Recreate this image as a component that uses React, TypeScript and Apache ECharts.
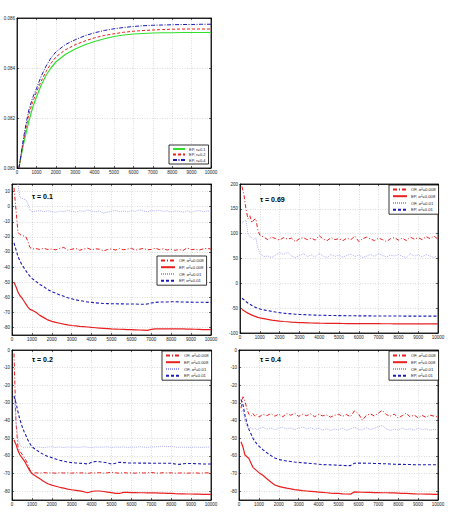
import React, { useEffect, useRef } from "react";
import * as echarts from "echarts";

// ---- iteration steps ----
const stepsTop = [100, 200, 300, 400, 500, 600, 800, 1000, 1250, 1500, 1750, 2000, 2500, 3000, 3500, 4000, 4500, 5000, 5500, 6000, 6500, 7000, 7500, 8000, 8500, 9000, 9500, 10000];

const steps = [
  100, 200, 300, 400, 500, 600, 700, 800, 900, 1000,
  1200, 1400, 1600, 1800, 2000, 2200, 2400, 2600, 2800, 3000,
  3200, 3400, 3600, 3800, 4000, 4200, 4400, 4600, 4800, 5000,
  5200, 5400, 5600, 5800, 6000, 6200, 6400, 6600, 6800, 7000,
  7200, 7400, 7600, 7800, 8000, 8200, 8400, 8600, 8800, 9000,
  9200, 9400, 9600, 9800, 10000,
];

// ---- top panel: EP for three tau values ----
const epTau01 = [0.08, 0.08042, 0.08082, 0.08118, 0.08152, 0.08184, 0.0824, 0.08284, 0.08332, 0.08371, 0.084, 0.08424, 0.08455, 0.08476, 0.08493, 0.08506, 0.08517, 0.08526, 0.08532, 0.08536, 0.08538, 0.0854, 0.08541, 0.08541, 0.08542, 0.08542, 0.08542, 0.08542];
const epTau02 = [0.08, 0.08048, 0.08094, 0.08136, 0.08175, 0.08211, 0.08262, 0.08304, 0.08348, 0.08386, 0.08418, 0.08444, 0.08473, 0.08493, 0.08508, 0.08521, 0.0853, 0.08537, 0.08543, 0.08547, 0.0855, 0.08552, 0.08554, 0.08555, 0.08556, 0.08556, 0.08556, 0.08556];
const epTau04 = [0.08, 0.08052, 0.08102, 0.08148, 0.0819, 0.08228, 0.0828, 0.08317, 0.08368, 0.08408, 0.0844, 0.08464, 0.08494, 0.08513, 0.08529, 0.08541, 0.0855, 0.08557, 0.08562, 0.08566, 0.08569, 0.08571, 0.08572, 0.08573, 0.08574, 0.08574, 0.08575, 0.08575];

// ---- tau = 0.1 ----
const t01Of008 = [
  12.5, -2, -17, -18.5, -19, -19.5, -20, -23, -27, -28,
  -27.8, -28.3, -27.6, -28.4, -28, -28.6, -27.7, -27, -28.8, -28.2,
  -27.6, -28.9, -28.1, -27.5, -28.6, -27.9, -28.2, -29.3, -28.4, -28,
  -28.7, -27.8, -28.5, -28.1, -27.6, -28.8, -28.2, -27.7, -28.6, -28.3,
  -27.5, -28.4, -27.9, -28.7, -28.2, -28.9, -28.4, -29, -27.3, -28.5,
  -28.2, -28.8, -28, -27.6, -28.1,
];
const t01Ep008 = [
  -50, -53, -56.5, -59, -60.5, -62.5, -64.5, -66.5, -68, -68.5,
  -70, -72, -73.5, -75, -76, -76.6, -77.2, -77.8, -78.3, -78.7,
  -79, -79.3, -79.5, -79.7, -80, -80.2, -80.4, -80.6, -80.8, -81,
  -81.1, -81.2, -81.3, -81.4, -81.5, -81.6, -81.7, -81.8, -81.9, -81.3,
  -80.9, -80.9, -80.9, -81, -80.9, -81, -80.9, -81, -81.1, -81.1,
  -81.2, -81.3, -81.4, -81.5, -81.5,
];
const t01Of01 = [
  40, 25, 15, 6, 5.5, 5, 4.5, 2, -2, -3.5,
  -3, -2.6, -3.4, -2.8, -3.2, -3.8, -2.9, -3.3, -2.5, -3.1,
  -3.6, -2.7, -3.2, -2.2, -3, -3.5, -2.8, -4.3, -3.6, -3,
  -2.6, -3.3, -2.9, -3.5, -2.7, -3.1, -2, -2.9, -3.4, -2.6,
  -3, -2.4, -3.2, -2.8, -3.5, -2.9, -3.1, -3.6, -2.7, -3.8,
  -3, -2.5, -3.3, -2.8, -3.2,
];
const t01Ep01 = [
  -24, -28.5, -33, -36, -38.5, -40.5, -42.5, -44.5, -46, -47.5,
  -49.5, -51.5, -53, -55, -56.3, -57.3, -58.5, -59.3, -60.3, -61,
  -61.7, -62.2, -62.7, -63.1, -63.4, -63.7, -63.9, -64.1, -64.2, -64.3,
  -64.3, -64.4, -64.4, -64.5, -64.5, -64.5, -64.6, -64.6, -64.5, -63.8,
  -63.4, -63.2, -63.1, -63.1, -63, -63, -63.1, -63.1, -63.2, -63.2,
  -63.3, -63.3, -63.3, -63.4, -63.4,
];

// ---- tau = 0.69 ----
const t069Of008 = [
  195, 178, 150, 130, 136, 122, 128, 130, 108, 97,
  93, 88, 93, 90, 87, 92, 89, 91, 84, 90,
  92, 88, 91, 87, 96, 89, 86, 92, 88, 90,
  86, 91, 88, 95, 84, 90, 93, 89, 86, 91,
  88, 84, 90, 92, 87, 91, 86, 93, 89, 92,
  88, 94, 90, 95, 89,
];
const t069Ep008 = [
  -52, -55, -57.5, -60, -62, -64, -65.5, -67, -68.5, -69.5,
  -71, -72.5, -74, -75, -76, -76.8, -77.4, -78, -78.5, -79,
  -79.3, -79.6, -79.9, -80.1, -80.3, -80.4, -80.5, -80.6, -80.7, -80.8,
  -80.9, -81, -81, -81.1, -81.1, -81.2, -81.2, -81.3, -81.3, -81.3,
  -81.4, -81.4, -81.4, -81.5, -81.5, -81.5, -81.6, -81.6, -81.6, -81.6,
  -81.6, -81.6, -81.7, -81.7, -81.7,
];
const t069Of01 = [
  121, 126, 127, 100, 94, 92, 88, 92, 72, 60,
  54, 55, 52, 57, 62, 58, 63, 55, 52, 56,
  60, 54, 57, 53, 60, 55, 52, 58, 54, 57,
  53, 56, 59, 54, 57, 52, 55, 58, 54, 60,
  56, 53, 57, 55, 58, 54, 52, 60, 55, 57,
  53, 58, 55, 52, 57,
];
const t069Ep01 = [
  -30, -33, -36.5, -39.5, -42, -44.5, -46.5, -48.5, -50, -51.5,
  -53.5, -55, -56.5, -57.8, -59, -60, -60.8, -61.5, -62.1, -62.6,
  -63, -63.4, -63.7, -64, -64.2, -64.4, -64.6, -64.8, -64.9, -65,
  -65.1, -65.2, -65.3, -65.4, -65.5, -65.5, -65.6, -65.6, -65.7, -65.7,
  -65.8, -65.8, -65.8, -65.9, -65.9, -65.9, -66, -66, -66, -66,
  -66, -66, -66.1, -66.1, -66.1,
];

// ---- tau = 0.2 ----
const t02Of008 = [
  -2, -41, -55, -57.5, -59, -60.5, -62.5, -65, -68, -69.8,
  -69.6, -69.8, -69.5, -69.7, -69.6, -69.8, -69.5, -69.7, -69.6, -69.8,
  -69.5, -69.7, -69.6, -69.9, -69.6, -69.7, -69.5, -69.8, -69.6, -69.3,
  -69.6, -69.8, -69.5, -69.7, -69.6, -69.8, -69.5, -69.7, -69.6, -69.4,
  -69.7, -69.8, -69.5, -69.7, -69.6, -69.8, -69.7, -69.6, -69.8, -69.7,
  -69.6, -69.8, -69.7, -69.6, -69.8,
];
const t02Ep008 = [
  -51, -53.5, -57, -59.5, -61, -62.5, -64.5, -66.5, -68.5, -70,
  -71.5, -73, -74.5, -75.8, -76.6, -77.2, -77.8, -78.3, -78.8, -79.2,
  -79.5, -79.8, -80.3, -80.9, -80.2, -79.9, -79.9, -80.2, -80.5, -80.8,
  -81.2, -81.3, -80.7, -80.7, -80.8, -80.8, -80.9, -80.9, -81, -81,
  -81, -81.1, -81.1, -81.2, -81.2, -81.4, -81.5, -81.5, -81.6, -81.6,
  -81.7, -81.7, -81.8, -81.8, -81.8,
];
const t02Of01 = [
  -27, -40, -50, -54, -55, -55.2, -54.9, -55.3, -55, -55.2,
  -54.9, -55.1, -55.3, -55, -54.8, -55.2, -55, -55.3, -54.9, -55.1,
  -55, -55.2, -54.8, -55.1, -55.3, -54.9, -55.1, -55, -54.8, -55.2,
  -55, -55.1, -54.9, -55.2, -55, -55.1, -54.8, -55, -55.2, -54.9,
  -55, -54.6, -54.5, -54.7, -54.6, -55, -55.2, -55, -55.1, -55.2,
  -55, -55.1, -55.2, -55, -55.1,
];
const t02Ep01 = [
  -26, -30, -35, -39.5, -43, -46, -48.5, -51, -53, -54.8,
  -56.5, -58, -59.3, -60.3, -61, -61.8, -62.5, -63, -63.5, -63.8,
  -64, -64.2, -64.3, -64.6, -63.6, -63.2, -63.3, -63.6, -64, -64.6,
  -64.2, -63.6, -63.8, -64, -64, -64, -64.1, -64.1, -64.1, -64.2,
  -64.2, -64.2, -64.2, -64.2, -64.2, -64.6, -64.8, -64.5, -64.3, -64.3,
  -64.4, -64.5, -64.6, -64.6, -64.6,
];

// ---- tau = 0.4 ----
const t04Of008 = [
  -33, -26.5, -29, -33.5, -36.5, -37.5, -36, -37.5, -36.5, -38,
  -36.5, -37.2, -36, -37.5, -36.3, -37.8, -36, -37, -35.8, -37.6,
  -36.4, -37.2, -36.2, -37.8, -36.5, -37.3, -36.8, -38, -37, -36.4,
  -37.6, -36.6, -37.8, -34.5, -36, -39.8, -37, -36.2, -37.4, -35.8,
  -34.2, -36.6, -37.5, -36.3, -38.6, -37.2, -35.8, -37.9, -36.8, -38.5,
  -37.1, -38.1, -36.9, -37.5, -38,
];
const t04Ep008 = [
  -52, -55, -59.5, -60.5, -61.5, -64, -66.5, -67.5, -68.5, -69.5,
  -71, -73, -74.8, -76.5, -77.3, -77.8, -78.3, -78.7, -79.1, -79.4,
  -79.7, -79.9, -80.1, -80.3, -80.5, -80.7, -80.9, -81.1, -81.2, -81.3,
  -81.5, -81.6, -81.7, -80.4, -80.5, -80.6, -80.7, -80.7, -80.8, -80.8,
  -80.9, -80.9, -81, -81, -81.1, -81.2, -81.3, -81.4, -81.5, -81.6,
  -81.6, -81.7, -81.7, -81.8, -81.8,
];
const t04Of01 = [
  -35, -34, -40, -43.5, -44.5, -44, -45, -44.2, -45.3, -44.6,
  -43.8, -44.9, -44.1, -45.2, -44.4, -43.7, -44.8, -44.2, -45.1, -44.3,
  -43.6, -44.7, -44, -45, -44.3, -45.4, -44.6, -45.6, -44.8, -45.2,
  -44.4, -45.5, -44.7, -43.8, -44.9, -45.3, -44.1, -45, -44.5, -43.4,
  -42.8, -44.6, -45.6, -44.8, -45.3, -44.2, -45.1, -44.6, -45.4, -44.3,
  -45, -44.7, -45.5, -44.9, -45.2,
];
const t04Ep01 = [
  -28, -31, -37, -41.5, -45, -47.5, -50, -51.8, -53.2, -54.5,
  -56.5, -58.2, -59.8, -61.2, -62, -62.5, -62.9, -63.2, -63.5, -63.7,
  -63.9, -64.1, -64.3, -64.5, -64.7, -64.9, -65, -65.1, -65.2, -65.3,
  -65.4, -65.5, -65.5, -64.2, -64.1, -64.1, -64.2, -64.2, -64.3, -64.3,
  -64.4, -64.5, -64.6, -64.7, -64.8, -64.8, -64.9, -64.9, -65, -65,
  -65, -65, -65, -65, -65,
];

const xTicks = { min: 0, max: 10000, interval: 1000 };

const FONT = '"Liberation Sans", Arial, Helvetica, sans-serif';
const RED = "#e82020";
const BLUE = "#1c1cb4";
const LIGHT_BLUE = "#9a9af0";
const GREEN = "#30e030";

const NAMES = ["OF, σ²=0.008", "EP, σ²=0.008", "OF, σ²=0.01", "EP, σ²=0.01"];
const TOP_NAMES = ["EP, τ=0.1", "EP, τ=0.2", "EP, τ=0.4"];

type Panel = {
  grid: { left: number; top: number; width: number; height: number };
  y: { min: number; max: number; interval?: number; splitNumber?: number; showMin?: boolean; showMax?: boolean; digits?: number };
  label?: { text: string; left: number; top: number };
  legend: { left: number; top: number; names: string[]; small?: boolean };
};

const panels: Panel[] = [
  {
    grid: { left: 17, top: 18, width: 194, height: 150 },
    y: { min: 0.08, max: 0.086, interval: 0.002, digits: 3 },
    legend: { left: 169, top: 145, names: TOP_NAMES, small: true },
  },
  {
    grid: { left: 12, top: 184, width: 199, height: 151 },
    y: { min: -85, max: 15, splitNumber: 10, showMin: false, showMax: false },
    label: { text: "τ = 0.1", left: 32, top: 193 },
    legend: { left: 157, top: 256, names: NAMES },
  },
  {
    grid: { left: 240, top: 184, width: 198, height: 149 },
    y: { min: -100, max: 200, interval: 50 },
    label: { text: "τ = 0.69", left: 260, top: 196 },
    legend: { left: 389, top: 185, names: NAMES },
  },
  {
    grid: { left: 12, top: 350, width: 199, height: 150 },
    y: { min: -85, max: 0, splitNumber: 9, showMin: false, showMax: true },
    label: { text: "τ = 0.2", left: 32, top: 356 },
    legend: { left: 162, top: 351, names: NAMES },
  },
  {
    grid: { left: 239, top: 350, width: 199, height: 150 },
    y: { min: -85, max: 0, splitNumber: 9, showMin: false, showMax: true },
    label: { text: "τ = 0.4", left: 260, top: 356 },
    legend: { left: 389, top: 351, names: NAMES },
  },
];

const pair = (xs: number[], ys: number[]) => xs.map((x, i) => [x, ys[i]]);

const lineStyles: Record<string, any> = {
  "OF, σ²=0.008": { color: RED, width: 1, type: [4, 2, 1, 2] },
  "EP, σ²=0.008": { color: RED, width: 1.2, type: "solid" },
  "OF, σ²=0.01": { color: LIGHT_BLUE, width: 0.8, type: [1, 1] },
  "EP, σ²=0.01": { color: BLUE, width: 1.1, type: [3, 2] },
  "EP, τ=0.1": { color: GREEN, width: 1.2, type: "solid" },
  "EP, τ=0.2": { color: RED, width: 1, type: [3, 2] },
  "EP, τ=0.4": { color: BLUE, width: 1, type: [4, 1.5, 1, 1.5] },
};

const panelSeries: { name: string; data: number[][] }[][] = [
  [
    { name: TOP_NAMES[0], data: pair(stepsTop, epTau01) },
    { name: TOP_NAMES[1], data: pair(stepsTop, epTau02) },
    { name: TOP_NAMES[2], data: pair(stepsTop, epTau04) },
  ],
  [
    { name: NAMES[0], data: pair(steps, t01Of008) },
    { name: NAMES[1], data: pair(steps, t01Ep008) },
    { name: NAMES[2], data: pair(steps, t01Of01) },
    { name: NAMES[3], data: pair(steps, t01Ep01) },
  ],
  [
    { name: NAMES[0], data: pair(steps, t069Of008) },
    { name: NAMES[1], data: pair(steps, t069Ep008) },
    { name: NAMES[2], data: pair(steps, t069Of01) },
    { name: NAMES[3], data: pair(steps, t069Ep01) },
  ],
  [
    { name: NAMES[0], data: pair(steps, t02Of008) },
    { name: NAMES[1], data: pair(steps, t02Ep008) },
    { name: NAMES[2], data: pair(steps, t02Of01) },
    { name: NAMES[3], data: pair(steps, t02Ep01) },
  ],
  [
    { name: NAMES[0], data: pair(steps, t04Of008) },
    { name: NAMES[1], data: pair(steps, t04Ep008) },
    { name: NAMES[2], data: pair(steps, t04Of01) },
    { name: NAMES[3], data: pair(steps, t04Ep01) },
  ],
];

function buildOption() {
  const grids: any[] = [];
  const xAxes: any[] = [];
  const yAxes: any[] = [];
  const series: any[] = [];
  const legends: any[] = [];
  const graphics: any[] = [];

  const tick = { show: true, inside: true, length: 2, lineStyle: { color: "#000", width: 0.6 } };
  const axisLine = { show: true, onZero: false, lineStyle: { color: "#000", width: 0.8 } };
  const split = { show: true, lineStyle: { color: "#c4c4c4", width: 0.6, type: [1, 1.5] } };
  const labelBase = { fontSize: 4.5, color: "#222", fontFamily: FONT, margin: 2 };

  panels.forEach((p, g) => {
    grids.push({ ...p.grid, show: true, borderColor: "#000", borderWidth: 0.8, backgroundColor: "#fff", containLabel: false });

    xAxes.push({
      gridIndex: g, type: "value", position: "bottom", ...xTicks,
      axisLine, axisTick: tick, splitLine: split,
      axisLabel: { ...labelBase, formatter: (v: number) => String(v) },
    });
    xAxes.push({
      gridIndex: g, type: "value", position: "top", ...xTicks,
      axisLine, axisTick: tick, splitLine: { show: false }, axisLabel: { show: false },
    });

    const yRange: any = { min: p.y.min, max: p.y.max };
    if (p.y.interval !== undefined) yRange.interval = p.y.interval;
    if (p.y.splitNumber !== undefined) yRange.splitNumber = p.y.splitNumber;
    const digits = p.y.digits;
    yAxes.push({
      gridIndex: g, type: "value", position: "left", ...yRange,
      axisLine, axisTick: tick, splitLine: split,
      axisLabel: {
        ...labelBase,
        showMinLabel: p.y.showMin !== false,
        showMaxLabel: p.y.showMax !== false,
        formatter: (v: number) => (digits ? v.toFixed(digits) : String(Math.round(v))),
      },
    });
    yAxes.push({
      gridIndex: g, type: "value", position: "right", ...yRange,
      axisLine, axisTick: tick, splitLine: { show: false }, axisLabel: { show: false },
    });

    panelSeries[g].forEach((s) => {
      series.push({
        type: "line", name: s.name, data: s.data,
        xAxisIndex: 2 * g, yAxisIndex: 2 * g,
        symbol: "none", showSymbol: false, clip: true,
        lineStyle: lineStyles[s.name],
        itemStyle: { color: lineStyles[s.name].color },
        emphasis: { disabled: true },
      });
    });

    const small = p.legend.small;
    legends.push({
      left: p.legend.left, top: p.legend.top, orient: "vertical",
      data: p.legend.names,
      itemWidth: small ? 12 : 14, itemHeight: small ? 4 : 6, itemGap: small ? 1.5 : 2,
      padding: [2, 3, 2, 3],
      borderColor: "#000", borderWidth: 0.8, backgroundColor: "#fff",
      selectedMode: false,
      // line sample only, no marker on top of it
      itemStyle: { opacity: 0 },
      textStyle: { fontSize: small ? 4 : 4.2, color: "#222", fontFamily: FONT, padding: [0, 0, 0, -1] },
    });

    if (p.label) {
      graphics.push({
        type: "text", left: p.label.left, top: p.label.top, z: 100,
        style: { text: p.label.text, font: `bold 7px ${FONT}`, fill: "#000" },
      });
    }
  });

  return {
    animation: false,
    backgroundColor: "#fff",
    grid: grids,
    xAxis: xAxes,
    yAxis: yAxes,
    legend: legends,
    series,
    graphic: graphics,
  };
}

export default function App() {
  const ref = useRef<HTMLDivElement>(null);
  useEffect(() => {
    if (!ref.current) return;
    const chart = echarts.init(ref.current, undefined, { renderer: "svg" });
    chart.setOption(buildOption() as any);
    return () => chart.dispose();
  }, []);
  return (
    <div
      ref={ref}
      style={{ position: "fixed", left: 0, top: 0, width: 450, height: 515, background: "#fff" }}
    />
  );
}
